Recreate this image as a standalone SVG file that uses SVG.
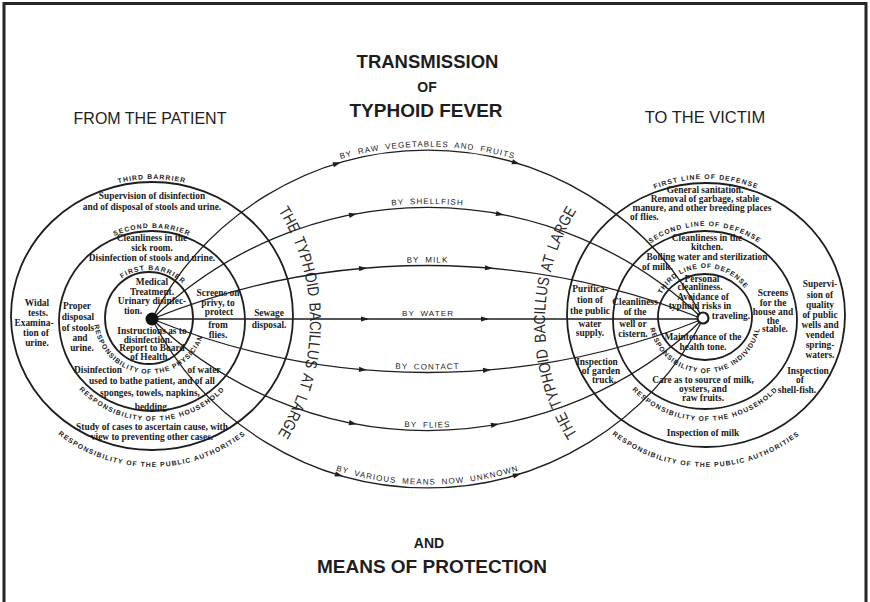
<svg xmlns="http://www.w3.org/2000/svg" xmlns:xlink="http://www.w3.org/1999/xlink" width="870" height="602" viewBox="0 0 870 602">
<style>
.c{fill:none;stroke:#1e1e1e;stroke-width:1.8}
.k{fill:none;stroke:#1e1e1e;stroke-width:1.3}
.t{font-family:"Liberation Serif","Times New Roman",serif;font-weight:bold;font-size:9.4px;fill:#1a1a1a;text-anchor:middle}
.ts{text-anchor:start}
.cap{font-family:"Liberation Sans",Arial,sans-serif;font-weight:bold;font-size:6.8px;letter-spacing:1.1px;fill:#222;text-anchor:middle}
.lab{font-family:"Liberation Sans",Arial,sans-serif;font-size:8px;letter-spacing:1.1px;word-spacing:2.5px;fill:#222;text-anchor:middle}
.bac{font-family:"Liberation Sans",Arial,sans-serif;font-size:16px;word-spacing:3px;fill:#2a2a2a;text-anchor:middle}
.hd{font-family:"Liberation Sans",Arial,sans-serif;fill:#1e1e1e;text-anchor:middle}
.ah{fill:#1e1e1e}
</style>
<defs>
<path id="ah" d="M4,0 L-4,-2.6 L-4,2.6 Z"/>
<path id="pL3" d="M15,316 A137,137 0 0 1 289,316"/>
<path id="pL2" d="M59,321 A93,93 0 0 1 245,321"/>
<path id="pL1" d="M101,318 A48,48 0 0 1 197,318"/>
<path id="pLphy" d="M94.08,315.07 A56,56 0 0 0 205.31,326.76"/>
<path id="pLhh" d="M52,321 A100,100 0 0 0 252,321"/>
<path id="pLpub" d="M1,316 A151,151 0 0 0 303,316"/>
<path id="pR1" d="M570,315 A136,136 0 0 1 842,315"/>
<path id="pR2" d="M611,320 A94,94 0 0 1 799,320"/>
<path id="pR3" d="M656,317 A49,49 0 0 1 754,317"/>
<path id="pRind" d="M649,317 A56,56 0 0 0 761,317"/>
<path id="pRhh" d="M604,320 A101,101 0 0 0 806,320"/>
<path id="pRpub" d="M554,315 A152,152 0 0 0 858,315"/>
<path id="tRaw" d="M277.5,185 A312.5,312.5 0 0 1 577.5,185"/>
<path id="tShell" d="M327.5,216.7 A399.5,399.5 0 0 1 527.5,216.7"/>
<path id="tMilk" d="M347.5,266.8 A739,739 0 0 1 507.5,266.8"/>
<path id="tContact" d="M347.5,365.1 A733,733 0 0 0 507.5,365.1"/>
<path id="tFlies" d="M327.5,414.6 A393,393 0 0 0 527.5,414.6"/>
<path id="tUnk" d="M277.5,445.2 A305.6,305.6 0 0 0 577.5,445.2"/>
<path id="bL" d="M255.4,180 A212,212 0 0 1 254.5,465"/>
<path id="bR" d="M600.5,465 A212,212 0 0 1 599.6,180"/>
</defs>

<rect width="870" height="602" fill="#fff"/>
<g id="frame"><path d="M4,602 V3.5 H866 V602" fill="none" stroke="#262626" stroke-width="3"/></g>

<g id="titles">
<text class="hd" x="427.5" y="68" font-size="18.5" font-weight="bold">TRANSMISSION</text>
<text class="hd" x="427" y="92" font-size="14" font-weight="bold">OF</text>
<text class="hd" x="426" y="117" font-size="19" font-weight="bold">TYPHOID FEVER</text>
<text class="hd" x="150" y="124" font-size="16">FROM THE PATIENT</text>
<text class="hd" x="705" y="123" font-size="16.5">TO THE VICTIM</text>
<text class="hd" x="429" y="548" font-size="14" font-weight="bold">AND</text>
<text class="hd" x="432" y="573" font-size="19" font-weight="bold">MEANS OF PROTECTION</text>
</g>

<g id="node-patient">
<ellipse class="c" cx="152" cy="316" rx="141" ry="134"/>
<ellipse class="c" cx="152" cy="321" rx="93" ry="90"/>
<ellipse class="c" cx="149" cy="318" rx="44" ry="46"/>
<text class="cap"><textPath href="#pL3" startOffset="50%">THIRD BARRIER</textPath></text>
<text class="cap"><textPath href="#pL2" startOffset="50%">SECOND BARRIER</textPath></text>
<text class="cap"><textPath href="#pL1" startOffset="53%">FIRST BARRIER</textPath></text>
<text class="cap" style="letter-spacing:0.9px"><textPath href="#pLphy" startOffset="50%">RESPONSIBILITY OF THE PHYSICIAN</textPath></text>
<text class="cap"><textPath href="#pLhh" startOffset="50%">RESPONSIBILITY OF THE HOUSEHOLD</textPath></text>
<text class="cap"><textPath href="#pLpub" startOffset="50%">RESPONSIBILITY OF THE PUBLIC AUTHORITIES</textPath></text>
<text class="t" x="152" y="199">Supervision of disinfection</text>
<text class="t" x="152" y="210">and of disposal of stools and urine.</text>
<text class="t" x="152" y="241">Cleanliness in the</text>
<text class="t" x="152" y="251">sick room.</text>
<text class="t" x="152" y="261">Disinfection of stools and urine.</text>
<text class="t" x="152" y="285">Medical</text>
<text class="t" x="152" y="295">Treatment.</text>
<text class="t" x="152" y="304">Urinary disinfec-</text>
<text class="t ts" x="124" y="314">tion.</text>
<text class="t" x="152" y="334">Instructions as to</text>
<text class="t" x="148" y="343">disinfection.</text>
<text class="t" x="152" y="351">Report to Board</text>
<text class="t" x="150" y="360">of Health.</text>
<text class="t" x="218" y="296">Screens on</text>
<text class="t" x="218" y="306">privy, to</text>
<text class="t" x="219" y="315">protect</text>
<text class="t" x="218" y="328">from</text>
<text class="t" x="218" y="338">flies.</text>
<text class="t" x="269" y="316">Sewage</text>
<text class="t" x="269" y="328">disposal.</text>
<text class="t" x="77" y="309">Proper</text>
<text class="t" x="78" y="320">disposal</text>
<text class="t" x="78" y="331">of stools</text>
<text class="t" x="80" y="341">and</text>
<text class="t" x="82" y="351">urine.</text>
<text class="t" x="37" y="306">Widal</text>
<text class="t" x="38" y="316">tests.</text>
<text class="t" x="34" y="326">Examina-</text>
<text class="t" x="36" y="336">tion of</text>
<text class="t" x="37" y="346">urine.</text>
<text class="t" x="98" y="373">Disinfection</text>
<text class="t" x="204" y="373">of water</text>
<text class="t" x="152" y="384">used to bathe patient, and of all</text>
<text class="t" x="150" y="396">sponges, towels, napkins,</text>
<text class="t" x="152" y="410">bedding.</text>
<text class="t" x="152" y="430">Study of cases to ascertain cause, with</text>
<text class="t" x="152" y="440">view to preventing other cases.</text>
</g>

<g id="node-victim">
<ellipse class="c" cx="706" cy="315" rx="139" ry="132"/>
<ellipse class="c" cx="705" cy="320" rx="92" ry="89"/>
<ellipse class="c" cx="705" cy="317" rx="47" ry="43"/>
<text class="cap"><textPath href="#pR1" startOffset="50%">FIRST LINE OF DEFENSE</textPath></text>
<text class="cap"><textPath href="#pR2" startOffset="50%">SECOND LINE OF DEFENSE</textPath></text>
<text class="cap" style="letter-spacing:0.8px"><textPath href="#pR3" startOffset="48%">THIRD LINE OF DEFENSE</textPath></text>
<text class="cap" style="letter-spacing:0.9px"><textPath href="#pRind" startOffset="50%">RESPONSIBILITY OF THE INDIVIDUAL</textPath></text>
<text class="cap"><textPath href="#pRhh" startOffset="50%">RESPONSIBILITY OF THE HOUSEHOLD</textPath></text>
<text class="cap"><textPath href="#pRpub" startOffset="50%">RESPONSIBILITY OF THE PUBLIC AUTHORITIES</textPath></text>
<text class="t" x="705" y="193">General sanitation.</text>
<text class="t" x="705" y="202">Removal of garbage, stable</text>
<text class="t" x="702" y="211">manure, and other breeding places</text>
<text class="t ts" x="630" y="220">of flies.</text>
<text class="t" x="707" y="241">Cleanliness in the</text>
<text class="t" x="707" y="250">kitchen.</text>
<text class="t" x="707" y="260">Boiling water and sterilization</text>
<text class="t ts" x="642" y="270">of milk.</text>
<text class="t" x="702" y="282">Personal</text>
<text class="t" x="700" y="290">cleanliness.</text>
<text class="t" x="703" y="300">Avoidance of</text>
<text class="t" x="700" y="309">typhoid risks in</text>
<text class="t" x="731" y="319">traveling.</text>
<text class="t" x="703" y="340">Maintenance of the</text>
<text class="t" x="703" y="350">health tone.</text>
<text class="t" x="590" y="292">Purifica-</text>
<text class="t" x="590" y="303">tion of</text>
<text class="t" x="590" y="314">the public</text>
<text class="t" x="590" y="327">water</text>
<text class="t" x="590" y="336">supply.</text>
<text class="t" x="635" y="305">Cleanliness</text>
<text class="t" x="635" y="315">of the</text>
<text class="t" x="633" y="327">well or</text>
<text class="t" x="633" y="337">cistern.</text>
<text class="t" x="773" y="296">Screens</text>
<text class="t" x="773" y="306">for the</text>
<text class="t" x="773" y="315">house and</text>
<text class="t" x="773" y="324">the</text>
<text class="t" x="775" y="332">stable.</text>
<text class="t" x="820" y="287">Supervi-</text>
<text class="t" x="820" y="298">sion of</text>
<text class="t" x="820" y="308">quality</text>
<text class="t" x="820" y="318">of public</text>
<text class="t" x="820" y="328">wells and</text>
<text class="t" x="820" y="338">vended</text>
<text class="t" x="820" y="348">spring-</text>
<text class="t" x="820" y="358">waters.</text>
<text class="t" x="597" y="365">Inspection</text>
<text class="t" x="601" y="374">of garden</text>
<text class="t" x="604" y="383">truck.</text>
<text class="t" x="703" y="383">Care as to source of milk,</text>
<text class="t" x="703" y="392">oysters, and</text>
<text class="t" x="703" y="401">raw fruits.</text>
<text class="t" x="808" y="374">Inspection</text>
<text class="t" x="800" y="383">of</text>
<text class="t" x="797" y="393">shell-fish.</text>
<text class="t" x="703" y="436">Inspection of milk</text>
</g>

<g id="bacillus-labels">
<text class="bac"><textPath href="#bL" startOffset="50%" textLength="236" lengthAdjust="spacingAndGlyphs">THE TYPHOID BACILLUS AT LARGE</textPath></text>
<text class="bac"><textPath href="#bR" startOffset="50%" textLength="236" lengthAdjust="spacingAndGlyphs">THE TYPHOID BACILLUS AT LARGE</textPath></text>
</g>

<g id="connectors">
<path class="k" d="M152,319 A309.1,309.1 0 0 1 703,319"/>
<path class="k" d="M152,319 A396,396 0 0 1 703,319"/>
<path class="k" d="M152,319 A736,736 0 0 1 703,319"/>
<path class="k" d="M152,319 H703"/>
<path class="k" d="M152,319 A736,736 0 0 0 703,319"/>
<path class="k" d="M152,319 A396,396 0 0 0 703,319"/>
<path class="k" d="M152,319 A309.1,309.1 0 0 0 703,319"/>
<g class="ah">
<use href="#ah" transform="translate(337,163.5) rotate(-17)"/>
<use href="#ah" transform="translate(516,162.9) rotate(16.6)"/>
<use href="#ah" transform="translate(353,214.6) rotate(-10.8)"/>
<use href="#ah" transform="translate(500,214.2) rotate(10.6)"/>
<use href="#ah" transform="translate(363,268.3) rotate(-5)"/>
<use href="#ah" transform="translate(489,268.1) rotate(4.8)"/>
<use href="#ah" transform="translate(365,319)"/>
<use href="#ah" transform="translate(485,319)"/>
<use href="#ah" transform="translate(363,369.7) rotate(5)"/>
<use href="#ah" transform="translate(487,370.1) rotate(-4.6)"/>
<use href="#ah" transform="translate(353,423.4) rotate(10.8)"/>
<use href="#ah" transform="translate(495,424.7) rotate(-9.8)"/>
<use href="#ah" transform="translate(339,475.1) rotate(16.6)"/>
<use href="#ah" transform="translate(517,474.8) rotate(-16.8)"/>
</g>
<text class="lab"><textPath href="#tRaw" startOffset="50%">BY RAW VEGETABLES AND FRUITS</textPath></text>
<text class="lab"><textPath href="#tShell" startOffset="50%">BY SHELLFISH</textPath></text>
<text class="lab"><textPath href="#tMilk" startOffset="50%">BY MILK</textPath></text>
<text class="lab" x="428" y="316">BY WATER</text>
<text class="lab"><textPath href="#tContact" startOffset="50%">BY CONTACT</textPath></text>
<text class="lab"><textPath href="#tFlies" startOffset="50%">BY FLIES</textPath></text>
<text class="lab"><textPath href="#tUnk" startOffset="50%">BY VARIOUS MEANS NOW UNKNOWN</textPath></text>
</g>

<g id="node-source"><circle cx="152" cy="319" r="6.5" fill="#111"/></g>
<g id="node-target"><circle cx="703" cy="318" r="5.5" fill="#fff" stroke="#1e1e1e" stroke-width="2.2"/></g>
</svg>
